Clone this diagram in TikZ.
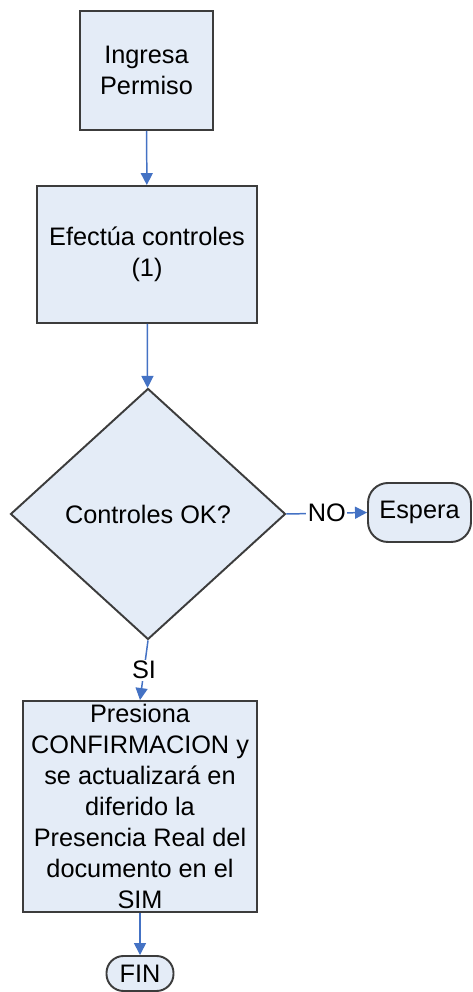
\documentclass[tikz,border=0pt]{standalone}
\usepackage{fontspec}
\setmainfont{Liberation Sans}
\usepackage{tikz}
\usetikzlibrary{arrows.meta,positioning,shapes.geometric}
\definecolor{boxfill}{RGB}{228,236,247}
\definecolor{boxline}{RGB}{60,60,60}
\definecolor{flowblue}{RGB}{68,114,196}

\begin{document}
\begin{tikzpicture}[
    procbox/.style={draw=boxline,line width=1.1pt,fill=boxfill,rectangle,align=center,inner sep=0pt},
    decbox/.style={draw=boxline,line width=1.1pt,fill=boxfill,diamond,aspect=1.1,inner sep=0pt},
    termbox/.style={draw=boxline,line width=1.1pt,fill=boxfill,rectangle,inner sep=0pt},
    flow/.style={-{Triangle[length=0.24cm,width=0.24cm]},draw=flowblue,line width=0.85pt},
    flowlabel/.style={fill=white,inner sep=1pt}
]
    \fontsize{14.4}{17.6}\selectfont
    \useasboundingbox (0,0) rectangle (9.44,19.84);

    % Boxes
    \node[procbox,minimum width=2.66cm,minimum height=2.38cm] (ingresa) at (2.93,18.43) {Ingresa\\Permiso};
    \node[procbox,minimum width=4.4cm,minimum height=2.74cm] (efectua) at (2.94,14.75) {Efectúa controles\\(1)};
    \node[decbox,minimum width=5.5cm,minimum height=5.02cm] (controles) at (2.96,9.56) {Controles OK?};
    \node[termbox,rounded corners=0.4cm,minimum width=2.06cm,minimum height=1.18cm] (espera) at (8.39,9.59) {Espera};
    \node[procbox,minimum width=4.68cm,minimum height=4.22cm] (presiona) at (2.8,3.71) {Presiona\\CONFIRMACION y\\se actualizará en\\diferido la\\Presencia Real del\\documento en el\\SIM};
    \node[termbox,rounded corners=0.34cm,minimum width=1.34cm,minimum height=0.7cm] (fin) at (2.8,0.37) {FIN};

    % Arrows
    \draw[flow] (ingresa) -- (efectua);
    \draw[flow] (efectua) -- (controles);
    \draw[flow] (controles.east) -- node[flowlabel] {NO} (espera.west);
    \draw[flow] (controles.south) -- node[flowlabel] {SI} (presiona.north);
    \draw[flow] (presiona) -- (fin);
\end{tikzpicture}
\end{document}
